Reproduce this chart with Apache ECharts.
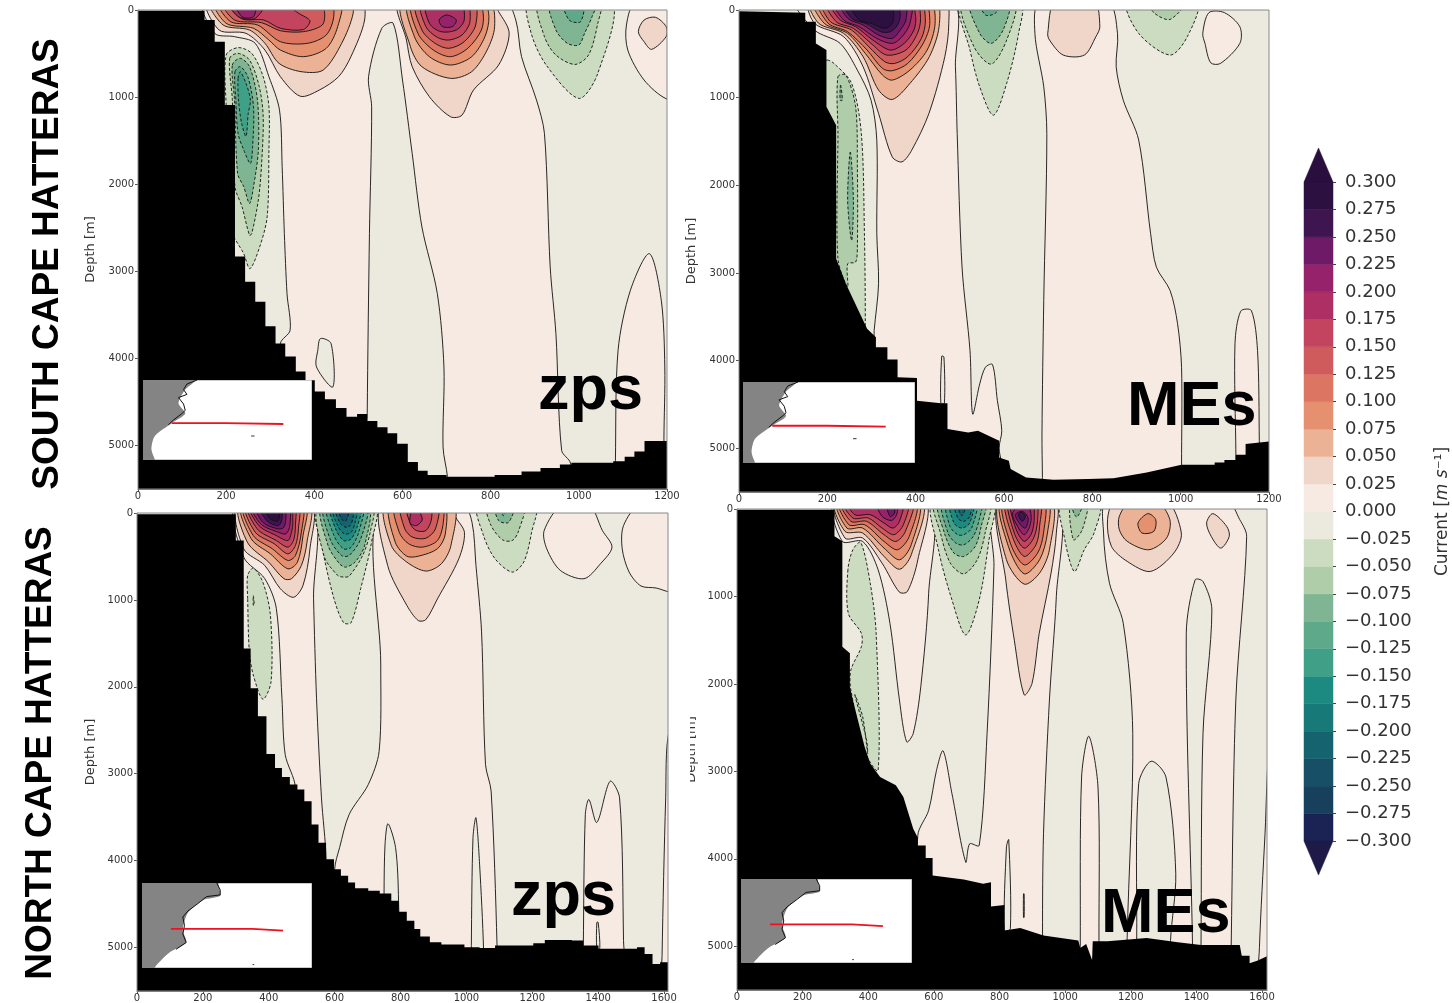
<!DOCTYPE html>
<html><head><meta charset="utf-8">
<style>html,body{margin:0;padding:0;background:#fff}#c{width:1452px;height:1003px}</style>
<script src="https://cdn.jsdelivr.net/npm/echarts@6/dist/echarts.min.js"></script>
</head><body><div id="c"></div>
<script>
// colour bands, lowest (< -0.300) to highest (> 0.300), one per 0.025 m/s
const bandColors=['#1e1a48','#1a2354','#17405d','#164f66','#15636e','#187a78','#1c8a80','#3fa087','#5ea98a','#7fb592','#b0cdaa','#cbdcc1','#ece9de',
 '#f6eae3','#f0d6c8','#ecb295','#e5906f','#dc7562','#d05b5d','#c2445e','#ad2f63','#95226a','#6f1a66','#3f1550','#2b1040','#2a0f3e'];
const barTicks=[-0.3,0.3,0.025];
const barBands=[-0.2875,-0.2625,-0.2375,-0.2125,-0.1875,-0.1625,-0.1375,-0.1125,-0.0875,-0.0625,-0.0375,-0.0125,0.0125,0.0375,0.0625,0.0875,0.1125,0.1375,0.1625,0.1875,0.2125,0.2375,0.2625,0.2875];

// sea-floor: step runs [x km, depth m] for zps, polyline for MEs
const bathyA=[[0,10],[151,115],[174,365],[197,1090],[220,2830],[243,3120],[266,3350],[289,3630],[312,3830],[334,3980],[358,4150],[380,4250],[401,4380],[424,4470],[449,4570],[473,4670],[497,4640],[520,4720],[543,4790],[566,4860],[588,4980],[612,5190],[635,5290],[657,5340],[700,5360],[809,5340],[870,5300],[913,5260],[957,5220],[983,5200],[1078,5180],[1104,5130],[1126,5070],[1149,4950],[1200,4920]];
const bathyC=[[0,15],[300,317],[324,1558],[345,2017],[367,2340],[393,2773],[419,2934],[440,3037],[464,3125],[487,3182],[508,3316],[530,3583],[551,3793],[574,3984],[598,4099],[619,4175],[641,4252],[662,4317],[702,4347],[737,4378],[772,4462],[795,4588],[819,4691],[842,4787],[860,4874],[889,4939],[924,4966],[994,4997],[1040,5004],[1087,4977],[1203,4950],[1238,4912],[1320,4920],[1355,4977],[1401,5015],[1518,4997],[1541,5073],[1565,5188],[1588,5168],[1617,5111]];
const bathyB=[0,15,150,30,150,133,174,133,174,381,198,457,198,1105,220,1314,220,2838,242,3124,290,3638,310,3734,310,3848,336,3848,336,3989,359,3989,359,4191,403,4200,403,4458,457,4488,472,4488,472,4780,519,4820,541,4800,589,4915,589,5105,611,5143,615,5238,650,5335,712,5360,791,5353,848,5342,923,5277,1002,5190,1077,5190,1077,5163,1099,5163,1099,5136,1125,5136,1125,5075,1147,5075,1147,4953,1200,4923];
const bathyD=[0,10,297,10,297,313,321,370,321,1574,344,1650,344,2032,353,2185,389,2720,406,2911,436,3064,484,3159,507,3293,537,3656,551,3759,551,3847,575,3847,575,3992,596,3992,596,4190,691,4236,750,4286,774,4267,774,4546,815,4527,815,4821,863,4790,934,4878,1040,4935,1046,5019,1064,4974,1082,5157,1084,4943,1129,4943,1248,4905,1343,4955,1414,4985,1532,4985,1538,5107,1562,5107,1562,5195,1585,5165,1620,5107];

// contour regions: [band value, [x km, depth m, ...]], painted in order
const contoursA=[
[0.0125,[151,-100,174,268,219,306,266,383,297,766,321,1150,327,1800,332,2567,338,3257,345,3678,323,3831,323,5600,981,5600,981,5203,961,5057,948,3716,935,2950,922,1418,904,1034,870,536,857,115,831,-100]],
[-0.0125,[520,5600,520,4636,525,2567,530,1111,523,766,553,210,579,153,600,804,622,1648,644,2490,679,3257,694,4100,692,5020,702,5360,702,5600]],
[-0.0125,[414,3772,438,3830,442,4328,405,4100,408,3900]],
[0.0125,[1130,-100,1108,172,1111,460,1148,804,1200,1023,1250,1023,1250,-100]],
[0.0125,[1083,5600,1083,5175,1089,3908,1117,3218,1160,2798,1187,3333,1195,4100,1193,4923,1193,5600]],
[0.0375,[1135,249,1148,115,1174,84,1198,191,1198,306,1165,452,1148,364]],
[0.0375,[158,-100,184,230,245,268,288,460,323,766,368,990,411,920,455,766,483,536,514,115,505,-100]],
[0.0625,[165,-100,193,172,253,230,288,383,320,613,370,708,420,690,462,383,488,38,480,-100]],
[0.0875,[175,-100,200,153,262,210,297,345,323,460,375,536,427,440,453,191,457,-100]],
[0.1125,[184,-100,210,134,271,172,323,364,384,383,427,287,444,77,436,-100]],
[0.1375,[193,-100,219,115,280,145,323,238,375,249,418,172,423,19,410,-100]],
[0.1625,[203,-100,235,100,285,115,323,210,375,225,390,125,365,40,320,-100]],
[0.1875,[206,-100,228,77,266,96,288,-100]],
[0.2125,[219,-100,236,77,262,77,266,-100]],
[-0.0375,[200,517,227,432,258,498,284,766,297,1110,297,1609,293,2375,276,2720,254,2970,240,2800,210,2500,200,1100]],
[-0.0625,[208,555,227,498,253,575,275,880,284,1226,280,1800,273,2182,258,2567,253,2587,236,2260,220,2030,214,1030]],
[-0.0875,[214,632,232,555,253,651,271,1034,273,1609,262,2030,253,2222,240,2030,226,1877,219,1034]],
[-0.1125,[220,709,232,651,249,766,262,1110,260,1570,255,1762,240,1609,227,1418,222,1034]],
[-0.1375,[227,785,232,709,245,842,255,1034,250,1190,245,1450,235,1300,228,1034]],
[0.0375,[592,-100,609,345,622,651,661,996,709,1226,735,1207,761,920,818,632,842,268,818,19,800,-100]],
[0.0625,[600,-100,618,421,644,651,709,785,757,708,792,460,809,191,796,-100]],
[0.0875,[614,-100,627,306,661,536,709,632,757,536,787,306,796,77,783,-100]],
[0.1125,[622,-100,635,268,670,460,709,536,748,440,779,230,783,38,770,-100]],
[0.1375,[631,-100,644,230,674,383,705,440,740,364,766,172,761,-100]],
[0.1625,[642,-100,653,191,679,314,705,345,735,287,753,134,744,-100]],
[0.1875,[653,-100,661,153,687,249,722,230,740,115,731,-100]],
[0.2125,[683,115,700,57,722,115,713,191,691,191]],
[-0.0375,[887,-100,892,268,926,632,1000,1015,1043,728,1074,-100]],
[-0.0625,[909,-100,922,306,948,517,991,625,1022,517,1043,153,1048,-100]],
[-0.0875,[935,-100,948,230,974,383,1000,402,1013,268,1030,77,1039,-100]],
[-0.1125,[965,-100,978,115,1004,134,1010,-100]]
];
const contoursB=[
[0.0125,[130,-100,171,229,229,381,268,686,299,1029,312,1486,312,2553,316,3124,306,3658,306,3734,306,5600,600,5600,589,5000,595,4800,585,4458,574,4046,558,4076,545,4267,529,4610,523,3886,505,2934,494,1410,490,648,481,-100]],
[-0.0125,[457,4488,459,3950,464,3960,465,4488]],
[0.0125,[681,-100,670,267,690,876,697,1410,690,3315,686,4839,687,5335,687,5600,1002,5600,1002,5190,1002,4077,993,3581,976,3200,945,2934,932,2553,905,1486,870,1029,854,648,857,267,835,-100]],
[0.0125,[1050,267,1064,30,1099,30,1134,191,1134,381,1090,610,1068,602,1055,381]],
[0.0125,[1125,5600,1125,5068,1123,3810,1136,3437,1160,3430,1174,3886,1178,4915,1178,5600]],
[0.0375,[699,267,716,-100,804,-100,817,191,808,305,782,514,734,514,703,343]],
[0.0375,[160,-100,171,152,237,305,281,648,316,1181,347,1676,369,1733,391,1600,430,1181,466,533,475,152,466,-100]],
[0.0625,[162,-100,180,150,237,267,281,533,316,914,347,1021,387,838,431,533,453,190,444,-100]],
[0.0875,[171,-100,193,152,246,267,286,495,325,743,347,800,387,686,426,457,444,152,431,-100]],
[0.1125,[180,-100,202,152,246,248,290,457,325,667,347,693,382,610,417,381,432,152,418,-100]],
[0.1375,[189,-100,207,133,255,229,294,419,330,590,352,610,382,533,413,324,422,114,409,-100]],
[0.1625,[198,-100,220,133,259,210,299,381,334,514,378,457,404,267,411,95,400,-100]],
[0.1875,[207,-100,229,114,264,190,303,343,343,457,374,381,396,229,400,76,387,-100]],
[0.2125,[215,-100,237,114,272,190,312,324,347,381,369,305,387,152,387,-100]],
[0.2375,[229,-100,246,95,281,171,316,286,347,324,365,229,378,114,374,-100]],
[0.2625,[237,-100,255,95,290,160,321,248,343,248,359,171,365,57,356,-100]],
[0.2875,[250,-100,272,114,299,152,330,210,347,152,350,38,338,-100]],
[-0.0375,[200,571,215,610,255,838,277,1410,284,2553,286,3581,284,3658,284,3700,190,3000,190,600]],
[-0.0625,[224,762,242,743,264,1105,268,1791,268,2705,264,2876,246,2896,246,3162,224,2838,224,1410]],
[-0.0875,[230,857,234,1029,229,1029]],
[-0.0875,[252,1620,259,2172,255,2630,246,2172]],
[-0.0375,[501,-100,523,457,545,876,576,1200,606,838,633,267,637,-100]],
[-0.0625,[505,-100,532,419,571,617,606,343,624,-100]],
[-0.0875,[523,-100,545,267,571,381,598,229,611,-100]],
[-0.1125,[545,-100,558,57,580,38,598,-100]],
[-0.0375,[879,-100,905,267,976,514,1015,305,1037,-100]],
[-0.0625,[927,-100,941,38,976,107,1011,-100]]
];
const contoursC=[
[0.0125,[300,-100,324,508,388,756,423,1100,440,2131,450,2781,481,3163,481,5600,575,5600,574,3984,560,3278,545,2131,536,986,531,-100]],
[0.0125,[737,-100,740,1750,735,2743,702,3125,644,3469,615,3851,600,4100,600,5600,1093,5600,1093,4977,1075,3200,1058,2896,1046,1368,1029,604,1017,107,988,-100]],
[-0.0125,[750,5600,750,4378,753,3812,762,3575,785,3851,794,4462,794,5600]],
[-0.0125,[1015,5600,1015,4977,1020,3736,1029,3507,1040,4040,1052,5015,1052,5600]],
[0.0125,[1372,-100,1413,203,1442,393,1407,584,1357,756,1285,660,1244,412,1236,203,1291,-100]],
[0.0125,[1527,-100,1477,145,1473,412,1494,680,1530,840,1576,863,1617,909,1650,909,1650,-100]],
[0.0125,[1355,5600,1355,4977,1361,3469,1372,3297,1396,3560,1436,3087,1465,3278,1477,4920,1477,5600]],
[-0.0125,[1396,4710,1400,4710,1405,5010,1396,5010]],
[0.0125,[1594,5600,1594,5092,1605,3278,1615,2514,1650,2514,1650,5600]],
[0.0375,[306,-100,324,412,388,604,435,871,475,970,504,833,525,412,528,-100]],
[0.0625,[312,-100,335,336,400,566,446,756,469,756,499,604,516,336,522,-100]],
[0.0875,[318,-100,347,298,405,470,458,642,487,566,504,260,510,-100]],
[0.1125,[324,-100,353,260,411,412,458,546,481,489,499,221,499,-100]],
[0.1375,[330,-100,359,221,417,355,458,470,481,374,490,183,487,-100]],
[0.1625,[336,-100,365,183,423,317,458,393,475,317,481,145,475,-100]],
[0.1875,[341,-100,370,145,423,260,458,317,469,221,473,107,464,-100]],
[0.2125,[347,-100,376,126,429,221,452,240,464,145,458,-100]],
[0.2375,[359,-100,382,107,429,183,446,164,452,50,446,-100]],
[0.2625,[370,-100,394,88,429,145,440,69,435,-100]],
[0.2875,[382,-100,405,69,429,88,429,-100]],
[-0.0375,[545,-100,563,412,598,986,627,1261,650,1261,679,871,712,336,723,-100]],
[-0.0625,[551,-100,568,497,609,718,627,737,644,726,685,489,708,221,714,-100]],
[-0.0875,[560,-100,580,374,615,585,633,623,662,565,691,374,702,-100]],
[-0.1125,[568,-100,586,298,621,489,644,489,679,298,697,-100]],
[-0.1375,[576,-100,598,260,627,412,650,393,673,221,685,-100]],
[-0.1625,[586,-100,603,183,627,317,650,298,668,164,679,-100]],
[-0.1875,[592,-100,609,145,630,240,650,221,662,107,668,-100]],
[-0.2125,[600,-100,615,107,633,164,647,145,656,50,656,-100]],
[-0.2375,[609,-100,621,69,635,88,644,-100]],
[0.0375,[743,-100,761,604,819,1062,854,1238,877,1226,912,989,977,527,994,222,965,31,959,-100]],
[0.0625,[755,-100,772,374,819,565,877,668,924,584,953,374,959,-100]],
[0.0875,[769,-100,784,336,819,497,854,497,912,412,936,241,930,-100]],
[0.1125,[784,-100,796,221,825,355,866,393,912,317,930,107,924,-100]],
[0.1375,[802,-100,813,183,837,279,877,290,906,183,912,-100]],
[0.1625,[819,-100,830,126,848,202,877,202,894,69,889,-100]],
[0.1875,[828,107,842,-100,866,69,848,145]],
[-0.0375,[1035,-100,1052,260,1087,527,1139,680,1174,565,1198,221,1209,-100]],
[-0.0625,[1063,-100,1075,145,1110,309,1139,317,1157,221,1174,-100]],
[-0.0875,[1087,-100,1098,88,1128,107,1145,-100]],
[-0.1125,[1104,-100,1112,31,1128,-100]],
[-0.0375,[336,986,336,718,353,635,382,795,405,1176,407,1940,382,2143,353,1864,341,1597]],
[-0.0625,[353,950,356,1060,353,1060]]
];
const contoursD=[
[0.0125,[297,-100,321,370,383,371,430,695,466,1306,495,2185,517,2662,537,2567,560,2032,584,963,584,-100]],
[0.0125,[783,-100,783,657,762,2567,738,3847,709,3828,697,4038,655,3255,628,2766,608,2987,584,3446,551,3732,551,5600,934,5600,931,4859,934,3713,952,2185,973,1000,978,-100]],
[-0.0125,[815,4821,821,3866,828,3782,833,4800]],
[-0.0125,[873,4400,875,4400,875,4670,873,4670]],
[0.0125,[1046,5600,1046,5000,1050,3064,1072,2598,1100,3178,1103,4935,1103,5600]],
[0.0125,[1129,-100,1117,275,1135,848,1177,1306,1206,2567,1189,4897,1189,5600,1506,5600,1506,4974,1520,2185,1553,313,1532,122,1491,-100]],
[-0.0125,[1218,5600,1218,4935,1224,3140,1262,2884,1307,3064,1337,4171,1321,4935,1321,5600]],
[-0.0125,[1388,5600,1388,4974,1369,1421,1396,810,1420,829,1447,1154,1420,2567,1414,4974,1414,5600]],
[0.0125,[1592,5600,1592,5012,1609,3713,1625,2600,1650,2600,1650,5600]],
[0.0375,[1153,-100,1129,122,1141,428,1189,599,1260,714,1331,504,1354,275,1307,-100]],
[0.0625,[1165,84,1165,237,1189,370,1255,466,1309,332,1319,122,1278,-100,1200,-100]],
[0.0875,[1222,160,1252,53,1276,122,1270,256,1234,275]],
[0.0375,[1431,160,1450,53,1492,198,1500,313,1474,447,1445,313]],
[0.0375,[300,-100,329,332,383,332,442,619,495,951,519,944,551,581,572,-100]],
[0.0625,[300,-100,329,256,383,275,448,542,495,689,531,524,563,-100]],
[0.0875,[306,-100,335,218,383,218,448,447,495,581,531,409,551,-100]],
[0.1125,[312,-100,341,180,389,180,448,371,489,466,525,313,543,-100]],
[0.1375,[318,-100,347,141,395,141,448,294,484,371,513,256,533,-100]],
[0.1625,[324,-100,353,103,400,103,442,218,478,294,507,179,519,-100]],
[0.1875,[335,-100,359,65,406,65,448,160,475,218,495,141,504,-100]],
[0.2125,[424,-100,442,84,472,130,488,46,484,-100]],
[0.2375,[454,-100,466,84,480,46,478,-100]],
[-0.0375,[596,-100,614,466,655,1039,697,1440,738,1039,768,351,780,-100]],
[-0.0625,[602,-100,620,275,650,619,691,741,732,581,756,275,768,-100]],
[-0.0875,[614,-100,632,275,661,504,691,542,726,427,744,199,756,-100]],
[-0.1125,[626,-100,643,275,667,390,691,409,720,313,738,122,744,-100]],
[-0.1375,[638,-100,649,199,673,294,691,294,715,218,729,-100]],
[-0.1625,[649,-100,661,160,685,218,709,160,720,-100]],
[-0.1875,[661,-100,673,103,691,141,709,84,715,-100]],
[-0.2125,[670,-100,685,76,700,-100]],
[0.0375,[797,-100,819,810,845,1500,875,2124,899,1994,921,1421,957,733,973,275,969,-100]],
[0.0625,[799,-100,821,580,875,859,922,733,952,466,958,-100]],
[0.0875,[804,-100,827,428,875,741,922,581,946,275,946,-100]],
[0.1125,[811,-100,833,390,875,639,916,504,934,275,934,-100]],
[0.1375,[819,-100,839,313,875,542,911,409,922,199,922,-100]],
[0.1625,[827,-100,845,275,875,447,904,332,916,122,910,-100]],
[0.1875,[834,-100,849,218,875,370,898,275,906,84,898,-100]],
[0.2125,[840,46,855,199,875,294,892,199,896,65,880,-100]],
[0.2375,[848,65,864,180,879,218,887,103,870,27]],
[0.2625,[857,65,869,141,879,84,867,38]],
[-0.0375,[987,-100,999,351,1028,714,1058,466,1088,275,1106,-100]],
[-0.0625,[1017,-100,1025,351,1052,237,1068,-100]],
[-0.0875,[1017,-100,1035,92,1056,-100]],
[-0.0375,[338,695,339,1191,379,1421,379,1574,347,1841,347,2070,392,2796,430,2987,424,1421,406,848,377,382,353,466]],
[-0.0625,[359,2124,395,2643,398,2796,383,2376]]
];

// locator maps, percent of the inset box
const landTop=[-10,-10,33,-10,31,1,25,12,21,29,25,42,17,54,7,70,5,87,8,110,-10,110];
const coastTop=[[32,0],[26,5],[24,12],[26,18],[21,22],[24,30],[25,38],[23,42],[18,50],[15,56]];
const sectionTop=[[17,54],[49,54],[50,55],[83,55]];
const landBottom=[-10,-10,44,-10,45,3,46,15,36,20,27,35,24,55,26,70,16,82,8,98,5,110,-10,110];
const coastBottom=[[44,0],[46,8],[46,14],[38,16],[33,24],[27,33],[24,40],[25,50],[24,60],[26,70],[20,78]];
const sectionBottom=[[17,54],[33,54],[34,55],[65,54],[66,56],[83,56]];
const boxCorners=[0,0,100,0,100,100,0,100];
const speckTop=[[64,70],[66,70]];
const speckBottom=[[65,96],[66,96]];

const panelLayout=[
 {g:[138,10,529,479],xMax:1200,gap:41,c:contoursA,b:bathyA,steps:true,ins:[143,380,169,80],top:true},
 {g:[739,10,530,482],xMax:1200,gap:41,c:contoursB,b:bathyB,steps:false,ins:[743,382,172,81],top:true},
 {g:[137,513,531,481],xMax:1612,gap:40,c:contoursC,b:bathyC,steps:true,ins:[142,883,170,85],top:false},
 {g:[737,509,530,481],xMax:1615,gap:39,c:contoursD,b:bathyD,steps:false,ins:[741,879,171,84],top:false}
];
const DEPTH_MAX=5500;
const bandColor=v=>bandColors[Math.floor((v+0.325)/0.025)];
const toPairs=f=>{const o=[];for(let i=0;i<f.length;i+=2)o.push([f[i],f[i+1]]);return o;};
const stepsToLine=s=>{const o=[];s.forEach((p,i)=>{if(i)o.push(p[0],s[i-1][1]);o.push(p[0],p[1]);});o.push(1700,s[s.length-1][1]);return o;};

const grids=[],xAxes=[],yAxes=[],series=[];
const axisFont={fontFamily:'DejaVu Sans',fontSize:10,color:'#333',formatter:v=>String(v)};
function addGrid(g){grids.push({left:g[0],top:g[1],width:g[2],height:g[3],show:false});return grids.length-1;}
panelLayout.forEach(p=>{
 const i=addGrid(p.g);
 xAxes.push({gridIndex:i,type:'value',min:0,max:p.xMax,interval:200,splitLine:{show:false},
  axisLine:{show:true,onZero:false,lineStyle:{color:'#777',width:1}},axisTick:{length:3,lineStyle:{color:'#555'}},
  axisLabel:{...axisFont,margin:2,showMaxLabel:p.xMax===1200}});
 yAxes.push({gridIndex:i,type:'value',inverse:true,min:0,max:DEPTH_MAX,interval:1000,splitLine:{show:false},
  name:'Depth [m]',nameLocation:'middle',nameGap:p.gap,nameMoveOverlap:false,nameTextStyle:{fontFamily:'DejaVu Sans',fontSize:13,color:'#333'},
  axisLine:{show:true,onZero:false,lineStyle:{color:'#777',width:1}},axisTick:{length:3,lineStyle:{color:'#555'}},
  axisLabel:{...axisFont,margin:4,showMaxLabel:false}});
 const base=[0,-100,p.xMax,-100,p.xMax,6000,0,6000];
 series.push({type:'custom',xAxisIndex:i,yAxisIndex:i,clip:true,silent:true,z:2,animation:false,
  data:[-1].concat(p.c.map((_,k)=>k)),encode:{x:[],y:[]},
  renderItem:(params,api)=>{
   const k=api.value(0);
   const pts=toPairs(k<0?base:p.c[k][1]).map(q=>api.coord(q));
   if(k<0)return{type:'polygon',shape:{points:pts},style:{fill:bandColors[12],stroke:null}};
   const v=p.c[k][0];
   return{type:'polygon',z2:k+1,shape:{points:pts,smooth:0.3},
    style:{fill:bandColor(v),stroke:'#111',lineWidth:0.9,lineDash:v<-0.02?[3,2]:null}};
  }});
 const line=p.steps?stepsToLine(p.b):p.b.concat([1700,p.b[p.b.length-1]]);
 series.push({type:'custom',xAxisIndex:i,yAxisIndex:i,clip:true,silent:true,z:3,animation:false,data:[0],encode:{x:[],y:[]},
  renderItem:(params,api)=>({type:'polygon',shape:{points:toPairs(line.concat([1700,6000,0,6000])).map(q=>api.coord(q))},style:{fill:'#000',stroke:null}})});
 series.push({type:'custom',xAxisIndex:i,yAxisIndex:i,clip:false,silent:true,z:4,animation:false,data:[0],encode:{x:[],y:[]},
  renderItem:(params,api)=>({type:'polygon',shape:{points:toPairs([0,0,p.xMax,0,p.xMax,DEPTH_MAX,0,DEPTH_MAX]).map(q=>api.coord(q))},style:{fill:null,stroke:'#888',lineWidth:1}})});
});
panelLayout.forEach(p=>{
 const i=addGrid(p.ins);
 xAxes.push({gridIndex:i,type:'value',min:0,max:100,show:false});
 yAxes.push({gridIndex:i,type:'value',min:0,max:100,inverse:true,show:false});
 const land=p.top?landTop:landBottom,coast=p.top?coastTop:coastBottom,sec=p.top?sectionTop:sectionBottom,speck=p.top?speckTop:speckBottom;
 series.push({type:'custom',xAxisIndex:i,yAxisIndex:i,clip:true,silent:true,z:6,animation:false,data:[0,1],encode:{x:[],y:[]},
  renderItem:(params,api)=>{
   const k=api.value(0);
   const pts=toPairs(k?land:boxCorners).map(q=>api.coord(q));
   return{type:'polygon',z2:k,shape:{points:pts,smooth:k?0.25:0},style:k?{fill:'#848484',stroke:null}:{fill:'#fff',stroke:'#999',lineWidth:1}};
  }});
 const ln=(d,c,w,z)=>({type:'line',xAxisIndex:i,yAxisIndex:i,data:d,symbol:'none',silent:true,animation:false,z:z,lineStyle:{color:c,width:w}});
 series.push(ln(coast,'#111',1,7),ln(speck,'#333',1,7),ln(sec,'#f0101e',1.8,8));
});
// colour bar
const cb=addGrid([1304,182,36,659]);
xAxes.push({gridIndex:cb,type:'value',min:0,max:1,show:false});
yAxes.push({gridIndex:cb,type:'value',position:'right',z:5,min:barTicks[0],max:barTicks[1],interval:barTicks[2],splitLine:{show:false},
 axisLine:{show:false,onZero:false},axisTick:{length:3,lineStyle:{color:'#444'}},
 axisLabel:{fontFamily:'DejaVu Sans',fontSize:18,color:'#333',margin:12,padding:[2,0,0,0],formatter:v=>{const s=Math.abs(v).toFixed(3);return v<-1e-6?'\u2212'+s:s;}},
 name:'{a|Current [}{b|m s}{c|\u207b\u00b9}{a|]}',nameLocation:'middle',nameRotate:90,nameGap:101,nameMoveOverlap:false,
 nameTextStyle:{rich:{a:{fontFamily:'DejaVu Sans',fontSize:17,color:'#333'},b:{fontFamily:'DejaVu Sans',fontStyle:'italic',fontSize:17,color:'#333'},c:{fontFamily:'DejaVu Sans',fontSize:17,color:'#333'}}}});
series.push({type:'custom',xAxisIndex:cb,yAxisIndex:cb,clip:false,silent:true,z:2,animation:false,data:barBands.map(v=>[v]),encode:{x:[],y:[]},
 renderItem:(params,api)=>{const v=api.value(0);
  return{type:'polygon',shape:{points:[[0,v-0.0125],[1,v-0.0125],[1,v+0.0125],[0,v+0.0125]].map(q=>api.coord(q))},style:{fill:bandColor(v),stroke:bandColor(v),lineWidth:0.5}};}});
series.push({type:'custom',xAxisIndex:cb,yAxisIndex:cb,clip:false,silent:true,z:2,animation:false,data:[[0.3,0.331,0.3125],[-0.3,-0.331,-0.3125]],encode:{x:[],y:[]},
 renderItem:(params,api)=>{const a=api.value(0),b=api.value(1);
  return{type:'polygon',shape:{points:[[0,a],[1,a],[0.5,b]].map(q=>api.coord(q))},style:{fill:bandColor(api.value(2)),stroke:bandColor(api.value(2)),lineWidth:0.5}};}});

const txt=(t,x,y,size,rot,align)=>({type:'text',x:x,y:y,rotation:rot||0,z:100,silent:true,
 style:{text:t,fill:'#000',textAlign:align||'left',textVerticalAlign:'top',font:'bold '+size+'px "Liberation Sans"'}});
const chart=echarts.init(document.getElementById('c'),null,{renderer:'canvas'});
chart.setOption({animation:false,backgroundColor:'#fff',grid:grids,xAxis:xAxes,yAxis:yAxes,series:series,
 graphic:[
  {type:'rect',z:100,silent:true,shape:{x:680,y:700,width:10,height:100},style:{fill:'#fff'}},
  txt('SOUTH CAPE HATTERAS',29,264,37,Math.PI/2,'center'),
  txt('NORTH CAPE HATTERAS',22,753,37,Math.PI/2,'center'),
  txt('zps',538,360,63),txt('MEs',1127,376,63),txt('zps',511,866,63),txt('MEs',1101,883,63)
 ]});
</script></body></html>
